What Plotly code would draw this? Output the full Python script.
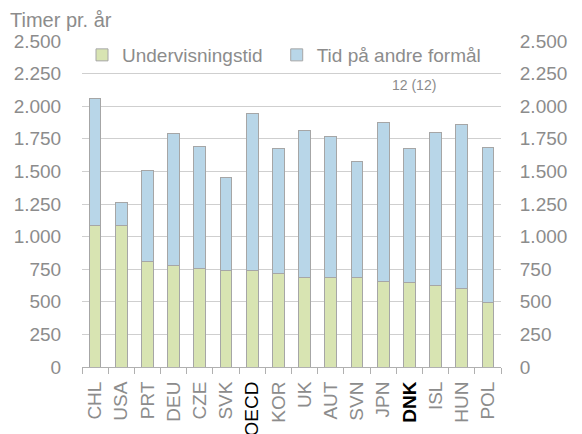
import plotly.graph_objects as go

countries = ["CHL", "USA", "PRT", "DEU", "CZE", "SVK", "OECD", "KOR", "UK",
             "AUT", "SVN", "JPN", "DNK", "ISL", "HUN", "POL"]
teaching = [1085, 1082, 809, 775, 753, 742, 737, 714, 690,
            684, 684, 653, 645, 622, 600, 495]
total = [2061, 1260, 1510, 1791, 1689, 1454, 1941, 1673, 1810,
         1770, 1579, 1872, 1673, 1796, 1862, 1686]
other = [t - u for t, u in zip(total, teaching)]
tick_labels = ["CHL", "USA", "PRT", "DEU", "CZE", "SVK",
               "<span style='color:#000000'>OECD</span>", "KOR", "UK",
               "AUT", "SVN", "JPN", "<span style='color:#000000'><b>DNK</b></span>",
               "ISL", "HUN", "POL"]
y_ticks = [0, 250, 500, 750, 1000, 1250, 1500, 1750, 2000, 2250, 2500]
y_tick_text = ["0", "250", "500", "750", "1.000", "1.250", "1.500", "1.750",
               "2.000", "2.250", "2.500"]

GREY = "#8c8c8c"
FONT = "Arial, Liberation Sans, sans-serif"
FS = 19

fig = go.Figure()
fig.add_trace(go.Bar(x=countries, y=teaching, name="Undervisningstid", legend="legend",
                     marker=dict(color="#d8e4b2", line=dict(color="#a6a6a6", width=1))))
fig.add_trace(go.Bar(x=countries, y=other, name="Tid på andre formål", legend="legend2",
                     marker=dict(color="#b8d6e8", line=dict(color="#a6a6a6", width=1))))
# invisible trace so the mirrored right-hand axis is drawn
fig.add_trace(go.Scatter(x=countries, y=total, yaxis="y2", mode="markers",
                         marker=dict(opacity=0), showlegend=False, hoverinfo="skip"))

leg_common = dict(orientation="h", xanchor="left", y=0.957, yanchor="middle",
                  bgcolor="rgba(0,0,0,0)", font=dict(size=FS, color=GREY), itemwidth=30)

fig.update_layout(
    width=582, height=434,
    barmode="stack", bargap=0.55,
    plot_bgcolor="white", paper_bgcolor="white",
    margin=dict(l=82, r=81, t=41, b=67),
    font=dict(family=FONT, size=FS, color=GREY),
    showlegend=True,
    legend=dict(x=0.0, **leg_common),
    legend2=dict(x=0.4647, **leg_common),
    xaxis=dict(tickmode="array", tickvals=countries, ticktext=tick_labels,
               tickangle=-90, ticks="outside", tickson="boundaries", ticklen=6,
               tickcolor="#b0b0b0", showline=True, linecolor="#b0b0b0", linewidth=1,
               showgrid=False, automargin=False, tickfont=dict(size=FS, color=GREY),
               ticklabelstandoff=6, range=[-0.5, 15.5]),
    yaxis=dict(range=[0, 2500], tickmode="array", tickvals=y_ticks, ticktext=y_tick_text,
               showgrid=True, gridcolor="#cfcfcf", gridwidth=1, zeroline=False,
               ticks="outside", ticklen=16, tickcolor="rgba(0,0,0,0)",
               automargin=False, tickfont=dict(size=FS, color=GREY)),
    yaxis2=dict(range=[0, 2500], tickmode="array", tickvals=y_ticks, ticktext=y_tick_text,
                overlaying="y", side="right", anchor="x", showgrid=False, zeroline=False,
                ticks="outside", ticklen=14, tickcolor="rgba(0,0,0,0)",
                automargin=False, tickfont=dict(size=FS, color=GREY)),
    annotations=[
        dict(text="Timer pr. år", xref="paper", yref="paper", x=-0.177, y=1.0,
             xanchor="left", yanchor="bottom", yshift=8, showarrow=False,
             font=dict(size=20, color=GREY)),
        dict(text="12 (12)", xref="paper", yref="paper", x=0.793, y=0.865,
             xanchor="center", yanchor="middle", showarrow=False,
             font=dict(size=14, color=GREY)),
    ],
)

fig.write_html("out.html", config={"displayModeBar": False},
               post_script="document.body.style.margin='0';")
